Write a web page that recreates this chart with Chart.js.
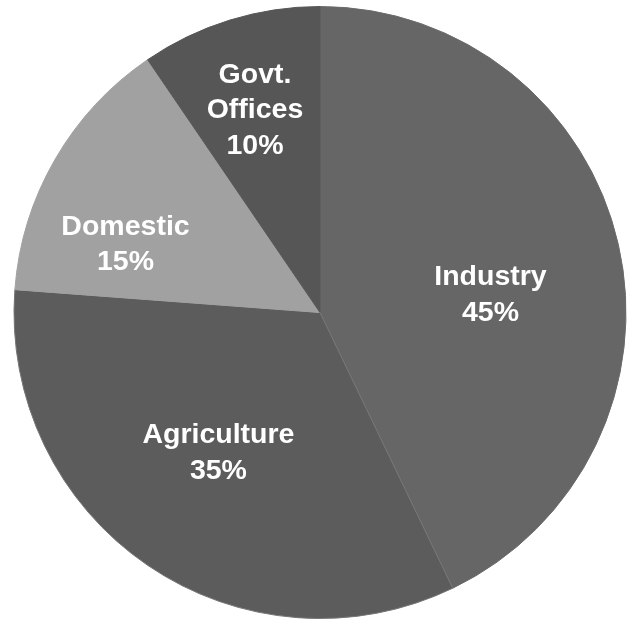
<!DOCTYPE html>
<html>
<head>
<meta charset="utf-8">
<script src="https://cdn.jsdelivr.net/npm/chart.js@4/dist/chart.umd.min.js"></script>
<style>
  html, body { margin: 0; padding: 0; background: #ffffff; overflow: hidden; }
  #wrap { position: relative; width: 635px; height: 619px; }
</style>
</head>
<body>
<div id="wrap"><canvas id="pie"></canvas></div>
<script>
// Water use by sector
const sectors = ['Industry', 'Agriculture', 'Domestic', 'Govt. Offices'];
const shares = [45, 35, 15, 10];
const labelLines = [['Industry'], ['Agriculture'], ['Domestic'], ['Govt.', 'Offices']];

// Slice styling
const fills = ['#666666', '#5c5c5c', '#a1a1a1', '#565656'];
const edges = ['#6a6a6a', '#767676', '#a1a1a1', '#565656'];

// Where each caption block sits inside its slice:
// fraction along the slice's sweep, and fraction of the outer radius
const labelSweep = [0.546, 0.513, 0.29, 0.48];
const labelReach = [0.56, 0.567, 0.673, 0.694];

const sliceLabels = {
  id: 'sliceLabels',
  afterDatasetsDraw(chart) {
    const ctx = chart.ctx;
    const meta = chart.getDatasetMeta(0);
    ctx.save();
    ctx.fillStyle = '#ffffff';
    ctx.font = 'bold 28.5px "Liberation Sans", Arial, sans-serif';
    ctx.textAlign = 'center';
    ctx.textBaseline = 'middle';
    const lineGap = 35.5;
    meta.data.forEach((arc, i) => {
      const p = arc.getProps(['x', 'y', 'startAngle', 'endAngle', 'outerRadius'], true);
      const a = p.startAngle + labelSweep[i] * (p.endAngle - p.startAngle);
      const r = p.outerRadius * labelReach[i];
      const cx = p.x + Math.cos(a) * r;
      const cy = p.y + Math.sin(a) * r;
      const lines = labelLines[i].concat([shares[i] + '%']);
      const top = cy - (lines.length - 1) * lineGap / 2;
      lines.forEach((t, k) => ctx.fillText(t, cx, top + k * lineGap));
    });
    ctx.restore();
  }
};

new Chart(document.getElementById('pie'), {
  type: 'pie',
  data: {
    labels: sectors,
    datasets: [{
      data: shares,
      backgroundColor: fills,
      borderColor: edges,
      borderWidth: 1,
      hoverOffset: 0
    }]
  },
  options: {
    responsive: true,
    maintainAspectRatio: false,
    animation: false,
    rotation: 0,
    layout: { padding: { left: 13, right: 8, top: 6, bottom: 0 } },
    plugins: {
      legend: { display: false },
      tooltip: { enabled: false }
    }
  },
  plugins: [sliceLabels]
});
</script>
</body>
</html>
